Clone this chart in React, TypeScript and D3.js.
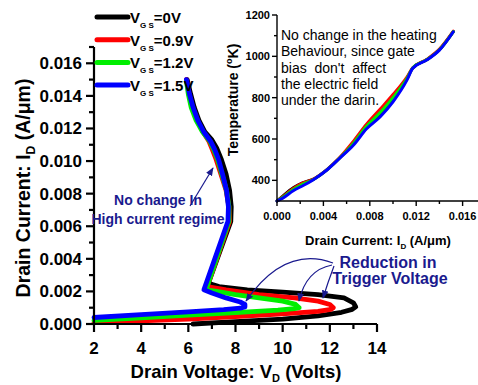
import React from "react";
import * as d3 from "d3";

// ---- Snapback I-V curves: [drain voltage (V), drain current (A/um)] ----
const ivVgs0: [number, number][] = [
  [6.2, 0.0], [8, 0.00015], [10, 0.0003], [11.5, 0.0005], [12.5, 0.00072], [12.95, 0.0009], [13.1, 0.00105],
  [13.0, 0.0013], [12.6, 0.0016], [11.5, 0.0018], [10, 0.00195], [8.5, 0.0021], [7.3, 0.0023], [6.85, 0.0025],
  [7.8, 0.0063], [7.82, 0.0072], [7.75, 0.0082], [7.6, 0.0092], [7.4, 0.0101], [7.2, 0.0108], [7.0, 0.0113],
  [6.7, 0.0118], [6.45, 0.0125], [6.25, 0.0133], [6.1, 0.0141], [5.95, 0.015],
];
const ivVgs09: [number, number][] = [
  [2, 0.0001], [4, 0.0002], [6, 0.0003], [8, 0.00045], [10, 0.00062], [11.5, 0.00078], [12.05, 0.0009], [12.15, 0.001],
  [12.0, 0.0012], [11.5, 0.0014], [10.5, 0.0016], [9, 0.0018], [7.6, 0.0021], [6.8, 0.0023],
  [7.75, 0.0063], [7.72, 0.0072], [7.6, 0.0082], [7.38, 0.0092], [7.18, 0.0101], [7.02, 0.0107], [6.88, 0.0112],
  [6.62, 0.0118], [6.38, 0.0125], [6.18, 0.0133], [6.03, 0.0141], [5.92, 0.015],
];
const ivVgs12: [number, number][] = [
  [2, 0.00022], [4, 0.00038], [6, 0.00055], [8, 0.0007], [9.8, 0.00085], [10.5, 0.00095], [10.7, 0.001],
  [10.55, 0.0012], [10, 0.0014], [9, 0.0016], [8, 0.0018], [7.2, 0.002], [6.75, 0.0021],
  [7.72, 0.0063], [7.72, 0.0072], [7.62, 0.0082], [7.42, 0.0092], [7.24, 0.0101], [7.08, 0.0107], [6.92, 0.0112],
  [6.6, 0.0118], [6.33, 0.0125], [6.12, 0.0133], [6.0, 0.0141], [5.92, 0.0149],
];
const ivVgs15: [number, number][] = [
  [2, 0.0004], [4, 0.00057], [6, 0.00074], [7.5, 0.00088], [8.2, 0.00097], [8.4, 0.00105],
  [8.4, 0.0012], [8.2, 0.00135], [7.6, 0.0016], [7.0, 0.0019], [6.66, 0.0021],
  [7.68, 0.0063], [7.7, 0.0072], [7.62, 0.0082], [7.45, 0.0092], [7.28, 0.0101], [7.12, 0.0107], [6.95, 0.0112],
  [6.65, 0.0118], [6.4, 0.0125], [6.2, 0.0133], [6.05, 0.0141], [5.92, 0.015],
];

// ---- Lattice temperature vs drain current: [I (A/um), T (K)] ----
const tVgs0: [number, number][] = [
  [0, 300], [0.0005, 324], [0.0014, 364], [0.0022, 388], [0.0031, 405], [0.0043, 451], [0.0054, 508], [0.0066, 578],
  [0.0077, 655], [0.0089, 725], [0.01, 798], [0.0112, 892], [0.0117, 943], [0.0129, 983], [0.014, 1032], [0.0152, 1120],
];
const tVgs09: [number, number][] = [
  [0, 300], [0.0005, 321], [0.0014, 361], [0.0022, 386], [0.0031, 405], [0.0043, 452], [0.0054, 510], [0.0066, 590],
  [0.0077, 670], [0.0089, 745], [0.01, 815], [0.0112, 900], [0.0117, 945], [0.0129, 985], [0.014, 1035], [0.0152, 1122],
];
const tVgs12: [number, number][] = [
  [0, 300], [0.0005, 318], [0.0014, 356], [0.0022, 380], [0.0031, 403], [0.0043, 451], [0.0054, 508], [0.0066, 580],
  [0.0077, 660], [0.0089, 728], [0.01, 800], [0.0112, 893], [0.0117, 944], [0.0129, 983], [0.014, 1032], [0.0152, 1120],
];
const tVgs15: [number, number][] = [
  [0, 300], [0.0005, 314], [0.0014, 350], [0.0023, 376], [0.0031, 402], [0.0043, 450], [0.0054, 507], [0.0066, 571],
  [0.0077, 648], [0.0089, 708], [0.01, 780], [0.0112, 885], [0.0117, 942], [0.0129, 982], [0.014, 1030], [0.0152, 1119],
];

const seriesNames = ["0V", "0.9V", "1.2V", "1.5V"];
const seriesColors = ["#000000", "#ff0000", "#00ee00", "#0000ff"];
const ivSeries = [ivVgs0, ivVgs09, ivVgs12, ivVgs15];
const tempSeries = [tVgs0, tVgs09, tVgs12, tVgs15];

const mainXTicks = [2, 4, 6, 8, 10, 12, 14];
const mainYTicks = [0, 0.002, 0.004, 0.006, 0.008, 0.01, 0.012, 0.014, 0.016];
const insetXTicks = [0, 0.004, 0.008, 0.012, 0.016];
const insetYTicks = [400, 600, 800, 1000, 1200];

const insetNote = [
  "No change in the heating",
  "Behaviour, since gate",
  "bias  don't  affect",
  "the electric field",
  "under the darin.",
];

const FONT = "Arial, 'Liberation Sans', Helvetica, sans-serif";
const NAVY = "#1a1a8e";

export default function App() {
  const W = 478, H = 385;

  // main plot scales
  const x = d3.scaleLinear().domain([2, 14]).range([94, 377]);
  const y = d3.scaleLinear().domain([0, 0.017]).range([324, 47]);
  // inset scales
  const ix = d3.scaleLinear().domain([0, 0.0175]).range([277, 480]);
  const iy = d3.scaleLinear().domain([300, 1200]).range([201, 15]);

  const ivLine = d3.line<[number, number]>().x((d) => x(d[0])).y((d) => y(d[1])).curve(d3.curveLinear);
  const tLine = d3.line<[number, number]>().x((d) => ix(d[0])).y((d) => iy(d[1])).curve(d3.curveMonotoneX);

  const mainXMinor = d3.range(3, 14, 2);
  const mainYMinor = d3.range(0.001, 0.0171, 0.002);
  const insetXMinor = d3.range(0.002, 0.0175, 0.004);
  const insetYMinor = [500, 700, 900, 1100];

  return (
    <svg width={W} height={H} style={{ position: "absolute", left: 0, top: 0, background: "#fff" }} fontFamily={FONT}>
      <defs>
        <marker id="ah" viewBox="0 0 10 10" refX="9" refY="5" markerWidth="7" markerHeight="7" orient="auto-start-reverse">
          <path d="M0,1 L10,5 L0,9 z" fill={NAVY} />
        </marker>
      </defs>
      <rect width={W} height={H} fill="#fff" />

      {/* main I-V curves */}
      {ivSeries.map((s, i) => (
        <path key={"iv" + i} d={ivLine(s) || ""} fill="none" stroke={seriesColors[i]} strokeWidth={4.8}
          strokeLinejoin="round" strokeLinecap="round" />
      ))}

      {/* main axes */}
      <g stroke="#000" strokeWidth={2.2}>
        <line x1={x(2)} x2={x(2)} y1={y(0) + 1} y2={y(0.017)} />
        <line x1={x(2) - 1} x2={x(14)} y1={y(0)} y2={y(0)} />
        {mainYTicks.map((t) => <line key={"my" + t} x1={x(2) - 8} x2={x(2)} y1={y(t)} y2={y(t)} />)}
        {mainYMinor.map((t) => <line key={"mym" + t} x1={x(2) - 5} x2={x(2)} y1={y(t)} y2={y(t)} />)}
        {mainXTicks.map((t) => <line key={"mx" + t} x1={x(t)} x2={x(t)} y1={y(0)} y2={y(0) + 8} />)}
        {mainXMinor.map((t) => <line key={"mxm" + t} x1={x(t)} x2={x(t)} y1={y(0)} y2={y(0) + 5} />)}
      </g>
      <g fontSize={17} fontWeight="bold" fill="#000">
        {mainYTicks.map((t) => (
          <text key={"myl" + t} x={x(2) - 12} y={y(t) + 6} textAnchor="end">{d3.format(".3f")(t)}</text>
        ))}
        {mainXTicks.map((t) => (
          <text key={"mxl" + t} x={x(t)} y={y(0) + 30} textAnchor="middle">{t}</text>
        ))}
      </g>
      <text x={236} y={378} textAnchor="middle" fontSize={18.5} fontWeight="bold">
        Drain Voltage: V<tspan fontSize={11} dy={4}>D</tspan><tspan dy={-4}> (Volts)</tspan>
      </text>
      <text transform="translate(30,188) rotate(-90)" textAnchor="middle" fontSize={19.5} fontWeight="bold">
        Drain Current: I<tspan fontSize={12} dy={5}>D</tspan><tspan dy={-5}> (A/μm)</tspan>
      </text>

      {/* legend */}
      {seriesNames.map((n, i) => {
        const ly = 17 + i * 22.7;
        return (
          <g key={"lg" + i}>
            <line x1={97} x2={128} y1={ly} y2={ly} stroke={seriesColors[i]} strokeWidth={5} strokeLinecap="round" />
            <text x={130} y={ly + 6} fontSize={15} fontWeight="bold">
              V<tspan fontSize={8} dy={5}>G S</tspan><tspan dy={-5}>={n}</tspan>
            </text>
          </g>
        );
      })}

      {/* annotations on main plot */}
      <g fill={NAVY} fontSize={14} fontWeight="bold" textAnchor="middle">
        <text x={158} y={205}>No change In</text>
        <text x={158} y={224}>High current regime</text>
      </g>
      <line x1={190} y1={206} x2={213} y2={168} stroke={NAVY} strokeWidth={1.2} markerEnd="url(#ah)" />

      <g fill={NAVY} fontSize={16} fontWeight="bold" textAnchor="middle">
        <text x={388} y={268}>Reduction in</text>
        <text x={390} y={284}>Trigger Voltage</text>
      </g>
      <g stroke={NAVY} strokeWidth={1.2} fill="none">
        <path d="M333,263 Q285,245 246,301" markerEnd="url(#ah)" />
        <path d="M332,265 Q306,270 299,301" markerEnd="url(#ah)" />
        <path d="M334,266 Q328,282 323,298" markerEnd="url(#ah)" />
      </g>

      {/* inset: temperature curves */}
      {tempSeries.map((s, i) => (
        <path key={"t" + i} d={tLine(s) || ""} fill="none" stroke={seriesColors[i]} strokeWidth={3}
          strokeLinejoin="round" strokeLinecap="round" />
      ))}
      <g stroke="#000" strokeWidth={1.4}>
        <line x1={ix(0)} x2={ix(0)} y1={iy(300)} y2={iy(1200)} />
        <line x1={ix(0)} x2={ix(0.0175)} y1={iy(300)} y2={iy(300)} />
        {insetYTicks.map((t) => <line key={"iy" + t} x1={ix(0) - 5} x2={ix(0)} y1={iy(t)} y2={iy(t)} />)}
        {insetYMinor.map((t) => <line key={"iym" + t} x1={ix(0) - 3} x2={ix(0)} y1={iy(t)} y2={iy(t)} />)}
        {insetXTicks.map((t) => <line key={"ix" + t} x1={ix(t)} x2={ix(t)} y1={iy(300)} y2={iy(300) + 5} />)}
        {insetXMinor.map((t) => <line key={"ixm" + t} x1={ix(t)} x2={ix(t)} y1={iy(300)} y2={iy(300) + 3} />)}
      </g>
      <g fontSize={11} fontWeight="bold" fill="#000">
        {insetYTicks.map((t) => (
          <text key={"iyl" + t} x={ix(0) - 7} y={iy(t) + 4} textAnchor="end">{t}</text>
        ))}
        {insetXTicks.map((t) => (
          <text key={"ixl" + t} x={ix(t)} y={iy(300) + 19} textAnchor="middle">{d3.format(".3f")(t)}</text>
        ))}
      </g>
      <text x={378} y={245} textAnchor="middle" fontSize={13} fontWeight="bold">
        Drain Current: I<tspan fontSize={8} dy={4}>D</tspan><tspan dy={-4}> (A/μm)</tspan>
      </text>
      <text transform="translate(238,100) rotate(-90)" textAnchor="middle" fontSize={14} fontWeight="bold">
        Temperature (<tspan fontSize={9} dy={-6}>o</tspan><tspan dy={6}>K)</tspan>
      </text>
      <g fontSize={14} fill="#000">
        {insetNote.map((l, i) => (
          <text key={"n" + i} x={281} y={40 + i * 16.3} xmlSpace="preserve" style={{ whiteSpace: "pre" }}>{l}</text>
        ))}
      </g>
    </svg>
  );
}
